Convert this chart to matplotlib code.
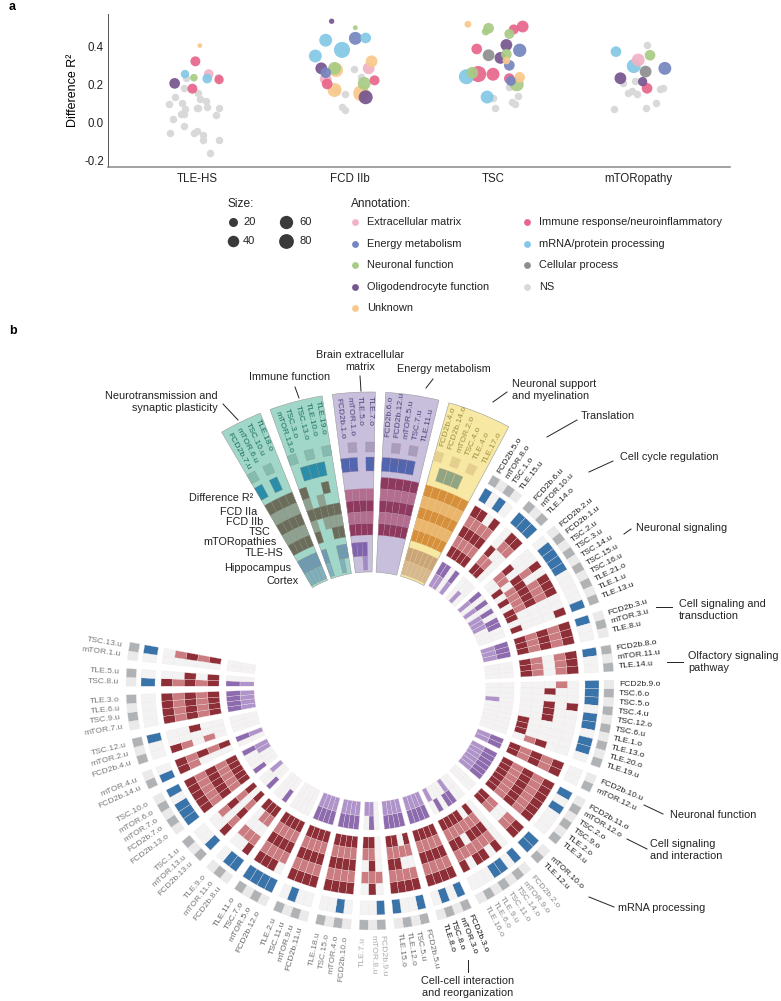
import numpy as np
from matplotlib import pyplot as plt

plt.rcParams['font.family'] = ['Liberation Sans', 'DejaVu Sans']

# ---- panel a data
ann_colors = {'E': '#F2B3C6', 'En': '#7585BF', 'N': '#A8CC85', 'O': '#76568F', 'U': '#F9C88C',
              'I': '#E7668C', 'M': '#83C8E6', 'C': '#8E8E8E', 'NS': '#D9D9D9'}
ann_left = [('Extracellular matrix', 'E'), ('Energy metabolism', 'En'), ('Neuronal function', 'N'),
            ('Oligodendrocyte function', 'O'), ('Unknown', 'U')]
ann_right = [('Immune response/neuroinflammatory', 'I'), ('mRNA/protein processing', 'M'),
             ('Cellular process', 'C'), ('NS', 'NS')]
groups = ['TLE-HS', 'FCD IIb', 'TSC', 'mTORopathy']

ns_x = [.93, 1.14, .91, 1.01, .85, 1.02, 1.06, .81, .90, 1.07, .92, 1.00, 1.01, 1.15, .91, .89, 1.13, .84, .91,
        .82, .98, 1.00, 1.04, 1.04, 1.15, 1.09,
        2.06, 2.11, 1.94, 2.00, 1.98, 2.00,
        3.11, 3.17, 3.00, 3.13, 3.15, 3.01,
        4.04, 3.96, 3.88, 3.91, 3.94, 3.97, 4.13, 4.15, 4.10, 3.82, 4.03]
ns_y = [.235, .240, .181, .153, .132, .121, .111, .096, .100, .079, .072, .074, .074, .074, .046, .042, .040, .016,
        -.019, -.056, -.054, -.047, -.068, -.093, -.091, -.163,
        .281, .237, .170, .147, .079, .063,
        .188, .140, .130, .109, .095, .075,
        .407, .218, .209, .154, .165, .149, .174, .179, .100, .072, .074]

sig_x = [1.02, .99, 1.08, .92, .98, 1.07, 1.15, .85, .97,
         1.91, 2.07, 1.87, 2.07, 2.14, 1.98, 1.80, 2.18, 1.94, 1.93, 1.84, 1.87, 2.16, 1.87, 1.88, 2.13, 2.20, 1.93,
         2.11, 2.14,
         2.83, 2.97, 2.95, 3.20, 3.14, 3.11, 3.09, 2.89, 3.18, 3.09, 2.97, 3.05, 3.09, 3.11, 2.86, 2.90, 3.00, 2.82,
         3.18, 3.11, 3.12, 3.16, 2.96,
         3.83, 4.06, 3.98, 3.95, 4.16, 4.03, 3.86, 4.01, 4.04]
sig_y = [.404, .321, .254, .254, .235, .230, .225, .205, .177,
         .532, .498, .432, .442, .444, .381, .349, .321, .275, .284, .284, .261, .284, .228, .202, .205, .221, .170,
         .153, .132,
         .516, .495, .477, .504, .489, .465, .407, .386, .379, .358, .353, .339, .325, .300, .261, .254, .253, .240,
         .237, .230, .218, .200, .133,
         .372, .353, .328, .296, .284, .267, .232, .214, .179]
sig_size = [1, 22, 20, 13, 9, 20, 18, 27, 22,
            2, 1, 46, 46, 27, 82, 46, 36, 57, 46, 36, 27, 36, 36, 27, 46, 22, 57,
            82, 57,
            6, 27, 9, 36, 22, 22, 36, 27, 50, 27, 36, 36, 9, 27, 36, 82, 46, 69,
            27, 27, 22, 57, 46,
            27, 27, 46, 57, 46, 36, 36, 18, 27]
sig_ann = ['U', 'I', 'E', 'M', 'N', 'M', 'I', 'O', 'I',
           'O', 'N', 'M', 'En', 'M', 'M', 'M', 'U', 'U', 'N', 'O', 'En', 'E', 'E', 'I', 'N', 'I', 'U',
           'U', 'O',
           'U', 'N', 'N', 'I', 'I', 'N', 'O', 'I', 'En', 'N', 'C', 'O', 'U', 'En', 'N', 'I', 'I', 'M',
           'U', 'I', 'En', 'N', 'M',
           'M', 'N', 'E', 'M', 'En', 'C', 'O', 'O', 'I']

# ---- panel b data, one entry per gene module group, clockwise
sector_labels = [
    ['FCD2b.7.u', 'mTOR.6.u', 'TSC.10.u', 'TLE.18.o'],
    ['mTOR.13.o', 'TSC.3.o', 'TSC.13.o', 'TLE.10.o', 'TLE.19.o'],
    ['FCD2b.1.o', 'mTOR.1.o', 'TLE.5.o', 'TLE.7.o'],
    ['FCD2b.6.o', 'FCD2b.12.u', 'mTOR.5.u', 'TSC.7.u', 'TLE.11.u'],
    ['FCD2b.4.o', 'FCD2b.14.o', 'mTOR.2.o', 'TSC.4.o', 'TLE.4.o', 'TLE.17.o'],
    ['FCD2b.5.o', 'mTOR.8.o', 'TSC.1.o', 'TLE.15.u'],
    ['FCD2b.6.u', 'mTOR.10.u', 'TLE.14.o'],
    ['FCD2b.2.u', 'FCD2b.1.u', 'TSC.2.u', 'TSC.3.u', 'TSC.14.u', 'TSC.15.u', 'TSC.16.u', 'TLE.21.o', 'TLE.1.u', 'TLE.13.u'],
    ['FCD2b.3.u', 'mTOR.3.u', 'TLE.8.u'],
    ['FCD2b.8.o', 'mTOR.11.u', 'TLE.14.u'],
    ['FCD2b.9.o', 'TSC.6.o', 'TSC.5.o', 'TSC.4.u', 'TSC.12.o', 'TSC.6.u', 'TLE.1.o', 'TLE.13.o', 'TLE.20.o', 'TLE.19.u'],
    ['FCD2b.10.u', 'mTOR.12.u'],
    ['FCD2b.11.o', 'mTOR.12.o', 'TSC.2.o', 'TSC.9.o', 'TLE.2.o', 'TLE.3.u'],
    ['mTOR.10.o', 'TLE.12.u'],
    ['FCD2b.2.o', 'mTOR.9.o', 'TSC.14.o', 'TSC.11.o', 'TLE.9.u', 'TLE.6.o', 'TLE.16.o'],
    ['FCD2b.3.o', 'mTOR.3.o', 'TSC.8.o', 'TLE.8.o'],
    ['FCD2b.5.u', 'TSC.5.u', 'TLE.12.o', 'TLE.15.o'],
    ['FCD2b.9.u', 'mTOR.8.u', 'TLE.7.u'],
    ['FCD2b.10.o', 'mTOR.4.o', 'TSC.15.o', 'TLE.18.u'],
    ['FCD2b.11.u', 'mTOR.9.u', 'TSC.11.u', 'TLE.2.u'],
    ['FCD2b.12.o', 'mTOR.5.o', 'TSC.7.o', 'TLE.11.o'],
    ['FCD2b.8.u', 'mTOR.11.o', 'TLE.9.o'],
    ['FCD2b.13.u', 'mTOR.13.u', 'TSC.1.u'],
    ['FCD2b.13.o', 'FCD2b.7.o', 'mTOR.7.o', 'mTOR.6.o', 'TSC.10.o'],
    ['FCD2b.14.u', 'mTOR.4.u'],
    ['FCD2b.4.u', 'mTOR.2.u', 'TSC.12.u'],
    ['mTOR.7.u', 'TSC.9.u', 'TLE.6.u', 'TLE.3.o'],
    ['TSC.8.u', 'TLE.5.u'],
    ['mTOR.1.u', 'TSC.13.u'],
]
label_grey = ['', '', '', '', '', '#222222', '#222222', '#222222', '#222222', '#222222', '#222222', '#222222',
              '#222222', '#222222', '#8c8c8c', '#111111', '#6e6e6e', '#aaaaaa', '#777777', '#666666', '#666666',
              '#777777', '#777777', '#777777', '#777777', '#777777', '#777777', '#777777', '#777777']
diff_r2 = ['1010', '01110', '1101', '11110', '011100', '1010', '111', '0111100001', '100', '100', '1110110110',
           '00', '101000', '11', '1011000', '1010', '1001', '100', '0100', '0010', '1111', '110', '100', '11101',
           '10', '001', '0000', '10', '01']
fcd2a = ['1111', '10010', '0000', '11111', '111111', '1101', '011', '0010111001', '111', '111', '0001000000',
         '11', '111111', '11', '0101101', '1111', '1111', '010', '1111', '1111', '0111', '100', '100', '11111',
         '11', '100', '1111', '10', '00']
fcd2b = ['1111', '10100', '1111', '11111', '111111', '1111', '011', '0010111000', '111', '111', '1000000000',
         '11', '111111', '11', '0111111', '1111', '1111', '111', '1111', '1111', '1111', '111', '101', '11111',
         '11', '100', '1111', '10', '01']
tsc = ['1111', '11111', '1111', '11111', '111111', '1111', '100', '1011111000', '111', '000', '0101110001',
       '11', '111111', '00', '0111011', '1111', '0011', '010', '1111', '1111', '1111', '000', '101', '11111',
       '01', '001', '1111', '11', '01']
mtor = ['1111', '10111', '1111', '11111', '111111', '1111', '110', '1101111000', '111', '111', '0000000001',
        '11', '111111', '11', '0111111', '1111', '1111', '011', '1111', '1111', '1111', '110', '101', '11111',
        '01', '100', '1111', '10', '01']
tle = ['1111', '10011', '1111', '11111', '111111', '1111', '110', '0010101101', '111', '111', '0000001110',
       '11', '111111', '11', '0101111', '1111', '1011', '011', '1111', '1111', '1111', '111', '101', '11111',
       '01', '000', '1111', '11', '01']
hippocampus = ['1111', '10011', '1110', '00000', '111111', '1101', '000', '1010101100', '111', '000', '0000000000',
               '11', '111111', '00', '0011010', '1111', '1111', '010', '1111', '1111', '0000', '100', '100', '10001',
               '01', '000', '1111', '10', '00']
cortex = ['1111', '10010', '0010', '00000', '111111', '1101', '010', '1010111000', '111', '000', '0001000000',
          '11', '111111', '00', '0010001', '1111', '1111', '011', '1111', '1111', '0000', '000', '001', '00011',
          '01', '000', '1111', '10', '00']
highlight = {0: 'teal', 1: 'teal', 2: 'lav', 3: 'lav', 4: 'yel'}

# colours of a cell, plain and below the three tinted wedges
palette = {
    'plain': dict(dark='#8E2F37', light='#CA7C80', blue='#3873A9', p_out='#8D6BAF', p_in='#AE94CB', sq='#B0B3B5',
                  sq_off='#EAEAEA', off='#F3F3F3', text=None, bg=None, line='#f4e4e4'),
    'teal': dict(dark='#6C6C5B', light='#8FA292', blue='#2A8DAA', p_out='#6E9BB3', p_in='#7FB0BE', sq='#84BDB0',
                 sq_off=None, off=None, text='#17705F', bg='#A1D7C9', line='#8b8b7b'),
    'lav': dict(dark='#8E3A5F', light='#B36E8F', blue='#5166AE', p_out='#7E64AE', p_in='#A28CC4', sq='#A89DBC',
                sq_off=None, off=None, text='#4D4279', bg='#C8BFDD', line='#b98aa5'),
    'yel': dict(dark='#D68F3B', light='#EAB56C', blue='#8FA583', p_out='#C9A57A', p_in='#D4B88F', sq='#E3D08F',
                sq_off=None, off=None, text='#A1903F', bg='#F7E9A3', line='#f1c68c'),
}

col_w = 2.1
gap_w = 2.02
start = -30.3
r_sq = (234, 244)
r_blue = (215, 229)
r_red = [(197.4, 209), (185.8, 197.4), (174.2, 185.8), (162.6, 174.2), (151, 162.6)]
r_hip = (130, 144)
r_ctx = (116, 130)

fig = plt.figure(figsize=(7.81, 10.01), dpi=100)
W, H = 781, 1001


def rect(x0, y0, x1, y1):
    return [x0 / W, 1 - y1 / H, (x1 - x0) / W, (y1 - y0) / H]


# ---- panel a
ax = fig.add_axes(rect(108, 14, 730, 167))
ax.scatter(ns_x, ns_y, s=(7.5 * .72) ** 2, color=ann_colors['NS'], linewidths=0)


def size_to_s(v):
    return ((3.4 + 1.4 * np.sqrt(v)) * .72) ** 2


order = np.argsort(sig_size)[::-1]
ax.scatter(np.array(sig_x)[order], np.array(sig_y)[order], s=[size_to_s(sig_size[i]) for i in order],
           c=[ann_colors[sig_ann[i]] for i in order], alpha=.93, linewidths=0)
ax.set_xlim(.4, 4.6)
ax.set_ylim(-.235, .57)
ax.set_xticks([1, 2.03, 3, 3.98])
ax.set_xticklabels(groups, fontsize=8.3, color='#222222')
ax.set_yticks([-.2, 0, .2, .4])
ax.set_yticklabels(['-0.2', '0.0', '0.2', '0.4'], fontsize=8.3, color='#222222')
ax.tick_params(length=0, pad=4)
ax.tick_params(axis='y', pad=3)
ax.set_ylabel('Difference R²', fontsize=9, labelpad=4)
for s in ['top', 'right']:
    ax.spines[s].set_visible(False)
ax.spines['left'].set_color('#555555')
ax.spines['left'].set_linewidth(.7)
ax.spines['bottom'].set_color('#888888')
ax.spines['bottom'].set_linewidth(1.1)

# ---- panel b, circular heatmap
pol = fig.add_axes(rect(70, 386, 670, 986), projection='polar')
pol.set_theta_zero_location('N')
pol.set_theta_direction(-1)
pol.set_rlim(0, 300)
pol.axis('off')

cells = []  # theta, r0, r1, colour, edge
labels = []
theta = start
idx = 0
for k, names in enumerate(sector_labels):
    n = len(names)
    kind = highlight.get(k, 'plain')
    pal = palette[kind]
    if kind != 'plain':
        pol.bar(np.radians(theta + n * col_w / 2), 294 - 114, width=np.radians(n * col_w), bottom=114,
                color=pal['bg'], edgecolor='#9a9a9a', linewidth=.4, zorder=1)
    for c in range(n):
        t = theta + (c + .5) * col_w
        sq_on = idx % 2 == 0
        cells.append((t, *r_sq, pal['sq'] if sq_on else pal['sq_off'], pal['line']))
        cells.append((t, *r_blue, pal['blue'] if diff_r2[k][c] == '1' else pal['off'], pal['line']))
        rows = [fcd2a, fcd2b, tsc, mtor, tle]
        for j, row in enumerate(rows):
            on = pal['dark'] if j % 2 == 0 else pal['light']
            cells.append((t, *r_red[j], on if row[k][c] == '1' else pal['off'], pal['line']))
        cells.append((t, *r_hip, pal['p_out'] if hippocampus[k][c] == '1' else pal['off'], pal['line']))
        cells.append((t, *r_ctx, pal['p_in'] if cortex[k][c] == '1' else pal['off'], pal['line']))
        labels.append((t, names[c], k, pal))
        idx += 1
    theta += n * col_w + gap_w

for t, r0, r1, col, line in cells:
    if col is None:
        continue
    pol.bar(np.radians(t), r1 - r0, width=np.radians(col_w), bottom=r0, color=col, edgecolor=line, linewidth=.2,
            zorder=2)

lab_size = 6.1
for t, name, k, pal in labels:
    if pal['text'] is not None:
        if t < 0:
            pol.text(np.radians(t), 290, name, rotation=-90 - t, rotation_mode='anchor', ha='left', va='center',
                     fontsize=lab_size, color=pal['text'], zorder=3)
        else:
            pol.text(np.radians(t), 250, name, rotation=90 - t, rotation_mode='anchor', ha='left', va='center',
                     fontsize=lab_size, color=pal['text'], zorder=3)
    elif t < 180:
        pol.text(np.radians(t), 249, name, rotation=90 - t, rotation_mode='anchor', ha='left', va='center',
                 fontsize=lab_size, color=label_grey[k], zorder=3)
    else:
        pol.text(np.radians(t), 251, name, rotation=270 - t, rotation_mode='anchor', ha='right', va='center',
                 fontsize=lab_size, color=label_grey[k], zorder=3)

# ---- everything placed by hand on the page
ov = fig.add_axes([0, 0, 1, 1], facecolor='none')
ov.set_xlim(0, W)
ov.set_ylim(H, 0)
ov.axis('off')
ov.text(9, 7, 'a', fontsize=9, fontweight='bold', va='center')
ov.text(9, 331, 'b', fontsize=9, fontweight='bold', va='center')

ov.text(228, 204, 'Size:', fontsize=8.6, va='center', color='#222222')
for x, y, d, t in [(233, 222, 9, '20'), (233, 241, 11.5, '40'), (286, 222, 13.3, '60'), (286, 241, 14.8, '80')]:
    ov.scatter([x], [y], s=(d * .72) ** 2, color='#3a3a3a', linewidths=0)
    ov.text(x + 10 if x < 250 else x + 13, y, t, fontsize=8, va='center', color='#222222')
ov.text(351, 204, 'Annotation:', fontsize=8.6, va='center', color='#222222')
for i, (name, key) in enumerate(ann_left):
    y = 222 + i * 21.6
    ov.scatter([355], [y], s=24, color=ann_colors[key], linewidths=0)
    ov.text(367, y, name, fontsize=7.9, va='center', color='#222222')
for i, (name, key) in enumerate(ann_right):
    y = 222 + i * 21.6
    ov.scatter([527], [y], s=24, color=ann_colors[key], linewidths=0)
    ov.text(539, y, name, fontsize=7.9, va='center', color='#222222')

row_names = [('Difference R²', 253, 498), ('FCD IIa', 257, 512), ('FCD IIb', 263, 522), ('TSC', 270, 532),
             ('mTORopathies', 277, 542), ('TLE-HS', 283, 553), ('Hippocampus', 291, 568), ('Cortex', 299, 581)]
for name, x, y in row_names:
    ov.text(x, y, name, fontsize=7.8, ha='right', va='center', color='#222222')

callouts = [
    ('Neurotransmission and\nsynaptic plasticity', 218, 402, 'right', (223, 404, 238, 420)),
    ('Immune function', 330, 377, 'right', (295, 387, 299, 398)),
    ('Brain extracellular\nmatrix', 360, 361, 'center', (360, 376, 361, 391)),
    ('Energy metabolism', 397, 369, 'left', (433, 379, 426, 388)),
    ('Neuronal support\nand myelination', 512, 390, 'left', (507, 392, 493, 402)),
    ('Translation', 581, 416, 'left', (577, 420, 547, 437)),
    ('Cell cycle regulation', 620, 457, 'left', (613, 461, 589, 472)),
    ('Neuronal signaling', 636, 528, 'left', (631, 529, 624, 534)),
    ('Cell signaling and\ntransduction', 679, 610, 'left', (656, 607, 672, 607)),
    ('Olfactory signaling\npathway', 688, 662, 'left', (667, 662, 683, 662)),
    ('Neuronal function', 670, 815, 'left', (644, 805, 663, 814)),
    ('Cell signaling\nand interaction', 650, 850, 'left', (627, 839, 647, 849)),
    ('mRNA processing', 618, 908, 'left', (589, 897, 614, 907)),
    ('Cell-cell interaction\nand reorganization', 468, 987, 'center', (468, 960, 468, 972)),
]
for name, x, y, ha, seg in callouts:
    ov.text(x, y, name, fontsize=7.8, ha=ha, va='center', color='#222222', linespacing=1.2,
            multialignment='center' if ha == 'center' else ha)
    ov.plot([seg[0], seg[2]], [seg[1], seg[3]], color='#222222', lw=.7)

fig.savefig('out.png', dpi=100)
